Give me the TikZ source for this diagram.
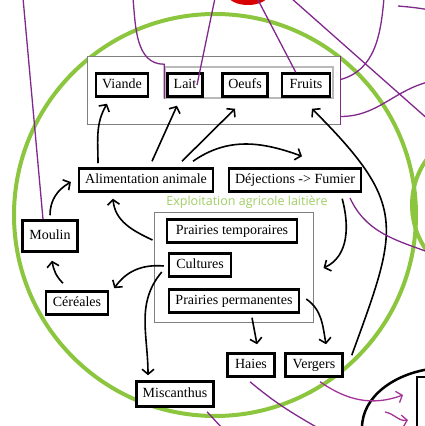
\documentclass[tikz,border=0pt]{standalone}
\usepackage{fontspec}
\setmainfont{Liberation Serif}
\newfontfamily\titrefont{Open Sans}
\usetikzlibrary{arrows.meta}
\definecolor{vert}{RGB}{140,198,63}
\definecolor{vertclair}{RGB}{160,205,100}
\definecolor{pourpre}{RGB}{128,40,140}
\definecolor{magentafonce}{RGB}{165,50,150}

\begin{document}
\begin{tikzpicture}[x=1pt,y=1pt,>={Straight Barb[length=5pt,width=12pt]},
  boite/.style={draw,line width=2.5pt,fill=white,inner xsep=6pt,inner ysep=5pt,
    text height=10pt,text depth=3pt,font=\fontsize{14}{16}\selectfont},
  cadre/.style={draw=gray,line width=1pt,fill=white,inner sep=0pt},
  fleche/.style={->,line width=1.6pt},
  lien/.style={pourpre,line width=1.3pt}]
\useasboundingbox (0,0) rectangle (425,426);
\clip (0,0) rectangle (425,426);

\fill[red!85!black] (248,431) ellipse [x radius=20pt,y radius=10pt];
\draw[vert,line width=4pt] (215,211) circle[radius=201pt];
\draw[vert,line width=4pt] (490,221) circle[radius=78pt];

\node[cadre,minimum width=253pt,minimum height=68pt] (produits) at (213.5,335) {};
\node[draw=gray!55,line width=1.5pt,inner sep=0pt,minimum width=168pt,minimum height=31pt] (lof) at (249,343.5) {};
\node[cadre,minimum width=159pt,minimum height=110pt] (ferme) at (233.5,158) {};

\draw[line width=2.5pt] (362,-2) .. controls (362,30) and (395,52) .. (430,57);
\draw[line width=2.5pt,fill=white] (417,-5) rectangle (432,49);

\node[boite] (viande) at (122,341) {Viande};
\node[boite] (lait) at (185,341) {Lait};
\node[boite] (oeufs) at (245,341) {Oeufs};
\node[boite,minimum width=48pt] (fruits) at (306,341) {Fruits};
\node[boite] (alim) at (146,246) {Alimentation animale};
\node[boite] (dej) at (295,246) {Déjections -> Fumier};
\node[text=vertclair,font=\titrefont\fontsize{12.5}{14}\selectfont] (titre) at (247,224) {Exploitation agricole laitière};
\node[boite,minimum width=130pt] (pt) at (232,195) {Prairies temporaires};
\node[boite,minimum width=62pt] (cult) at (200,161) {Cultures};
\node[boite,minimum width=130pt] (pp) at (234,125) {Prairies permanentes};
\node[boite,minimum width=55pt,minimum height=31pt] (moulin) at (50,190) {Moulin};
\node[boite,minimum width=62pt] (cer) at (77,123) {Céréales};
\node[boite,minimum width=47pt] (haies) at (251,61) {Haies};
\node[boite,minimum width=57pt] (vergers) at (314,61) {Vergers};
\node[boite,minimum height=25pt] (misc) at (175,32) {Miscanthus};

\draw[fleche] ([xshift=-48pt,yshift=4pt]alim.north) to[out=90,in=-120] ([xshift=-15pt,yshift=-6pt]viande.south);
\draw[fleche] ([xshift=6pt,yshift=6pt]alim.north) -- ([xshift=-8pt,yshift=-8pt]lait.south);
\draw[fleche] ([xshift=36pt,yshift=6pt]alim.north) -- ([xshift=-10pt,yshift=-11pt]oeufs.south);
\draw[fleche] ([xshift=47pt,yshift=6pt]alim.north) to[out=35,in=160] ([xshift=7pt,yshift=11pt]dej.north);
\draw[fleche] ([xshift=8pt,yshift=-3pt]vergers.north east) to[out=70,in=-45,looseness=1.4] ([xshift=6pt,yshift=-11pt]fruits.south);
\draw[fleche] ([xshift=-20pt,yshift=-6pt]dej.south east) to[out=-75,in=25] ([xshift=10pt]ferme.east);
\draw[fleche] ([xshift=-1pt,yshift=28pt]ferme.west) to[out=155,in=-85] ([xshift=-33pt,yshift=-6pt]alim.south);
\draw[fleche] ([yshift=4pt]moulin.north) to[out=90,in=-150] ([xshift=-7pt,yshift=-2pt]alim.west);
\draw[fleche] ([xshift=-14pt,yshift=7pt]cer.north) to[out=135,in=-80] ([xshift=2pt,yshift=-8pt]moulin.south);
\draw[fleche] ([xshift=-4pt,yshift=-1pt]cult.west) to[out=175,in=55] ([xshift=5pt,yshift=2pt]cer.north east);
\draw[fleche] ([xshift=-6pt,yshift=-7pt]cult.west) to[out=-130,in=90] ([xshift=-27pt,yshift=5pt]misc.north);
\draw[fleche] ([xshift=18pt,yshift=-4pt]pp.south) -- ([xshift=6pt,yshift=8pt]haies.north);
\draw[fleche] ([xshift=6pt,yshift=2pt]pp.east) to[out=-35,in=100] ([xshift=12pt,yshift=8pt]vergers.north);

\draw[lien] (23,428) -- ([xshift=-7pt]moulin.north);
\draw[lien] (133,428) to[out=-85,in=180] ([yshift=2pt]lof.north west) -- (lof.south west);
\draw[lien] (215,428) -- ([xshift=12pt]lait.center);
\draw[lien] (257,428) -- ([xshift=15pt]fruits.north west);
\draw[lien] (291,428) -- (430,305);
\draw[lien] (384,428) to[out=-95,in=15] ([yshift=-23pt]produits.north east);
\draw[lien] (produits.north east) -- (produits.south east);
\draw[lien] ([yshift=9pt]produits.south east) to[out=0,in=195] (428,344);
\draw[lien] (398,420) to[out=-5,in=170] (430,416);
\draw[lien] (350,228) to[out=-65,in=160] (428,174);
\draw[lien] ([xshift=-1pt,yshift=-4pt]haies.south) to[out=-40,in=150] (318,-2);
\draw[lien] ([xshift=32pt,yshift=-4pt]misc.south) -- (222,-2);
\draw[lien,magentafonce,->] ([xshift=6pt,yshift=-4pt]vergers.south) to[out=-35,in=200] (403,31);
\draw[lien,magentafonce,->] (385,14) to[out=-10,in=190] (408,6);

\end{tikzpicture}
\end{document}
